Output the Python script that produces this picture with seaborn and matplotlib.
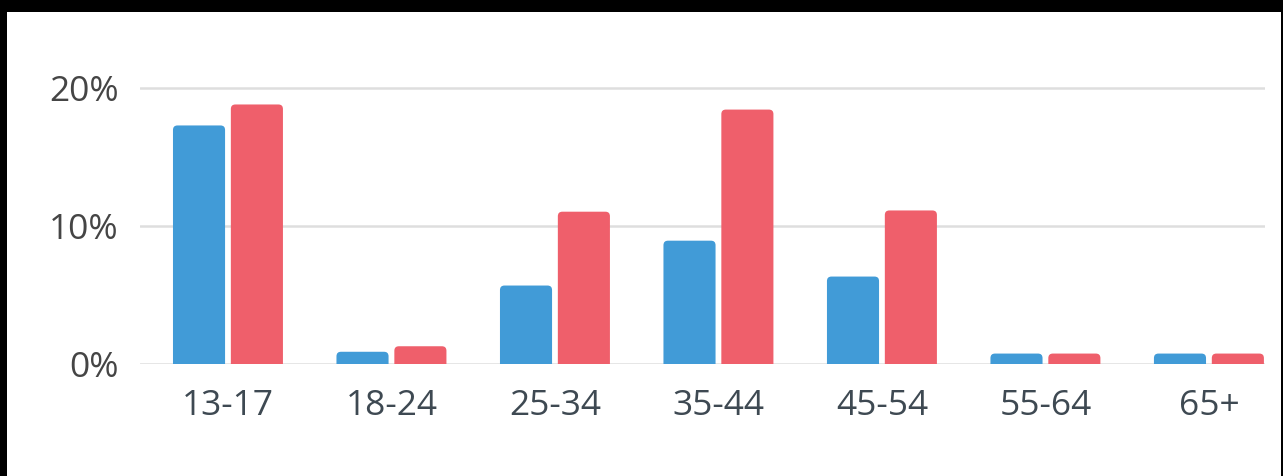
import matplotlib
matplotlib.use("Agg")
import matplotlib.pyplot as plt
from matplotlib.patches import Rectangle, FancyBboxPatch
import seaborn as sns
import pandas as pd

categories = ["13-17", "18-24", "25-34", "35-44", "45-54", "55-64", "65+"]
series_names = ["A", "B"]
blue_values = [17.25, 0.85, 5.65, 8.9, 6.3, 0.72, 0.72]
red_values = [18.77, 1.25, 11.0, 18.4, 11.09, 0.72, 0.72]
y_ticks = [0, 10, 20]
y_tick_labels = ["0%", "10%", "20%"]

df = pd.DataFrame({
    "age": categories * 2,
    "series": [series_names[0]] * len(categories) + [series_names[1]] * len(categories),
    "value": blue_values + red_values,
})

sns.set_theme(style="white")
plt.rcParams["font.family"] = ["Open Sans", "DejaVu Sans"]

W, H = 1283, 477
fig = plt.figure(figsize=(W / 100, H / 100), dpi=100, facecolor="black")
fig.patches.append(Rectangle((7 / W, 0), (1281 - 7) / W, (H - 12.7) / H,
                             transform=fig.transFigure, facecolor="white",
                             edgecolor="none", zorder=-10))

y0, ytop = 364.5, 60.9
ax = fig.add_axes([140 / W, (H - y0) / H, (1265 - 140) / W, (y0 - ytop) / H])
ax.set_facecolor("white")

palette = {"A": "#419bd7", "B": "#ef5f6b"}
sns.barplot(data=df, x="age", y="value", hue="series", order=categories,
            hue_order=series_names, palette=palette, width=0.708, gap=0.10,
            saturation=1, legend=False, ax=ax, zorder=3)

ax.set_xlim(-0.538, 6.343)
ax.set_ylim(0, 22)

# rounded tops
px_x = 1 / 163.5
px_y = 1 / 13.8
r = 4.5
for p in list(ax.patches):
    if not isinstance(p, Rectangle):
        continue
    x, y = p.get_x(), p.get_y()
    w, h = p.get_width(), p.get_height()
    if h <= 0:
        continue
    ext = r * px_y * 1.5
    fb = FancyBboxPatch((x, y - ext), w, h + ext,
                        boxstyle=f"round,pad=0,rounding_size={r * px_x}",
                        mutation_aspect=px_y / px_x,
                        facecolor=p.get_facecolor(), edgecolor="none",
                        zorder=3, clip_on=True)
    p.remove()
    ax.add_patch(fb)

ax.set_yticks(y_ticks)
ax.set_yticklabels(y_tick_labels)
ax.yaxis.grid(True, color="#dedede", linewidth=1.8, zorder=0)
ax.xaxis.grid(False)
ax.set_axisbelow(True)
for s in ax.spines.values():
    s.set_visible(False)
ax.tick_params(axis="y", length=0, pad=15.5, labelsize=25.5, labelcolor="#454545")
ax.tick_params(axis="x", length=0, pad=18, labelsize=25.5, labelcolor="#3e4952")
ax.set_xlabel("")
ax.set_ylabel("")

fig.savefig("out.png", dpi=100, facecolor="black")
